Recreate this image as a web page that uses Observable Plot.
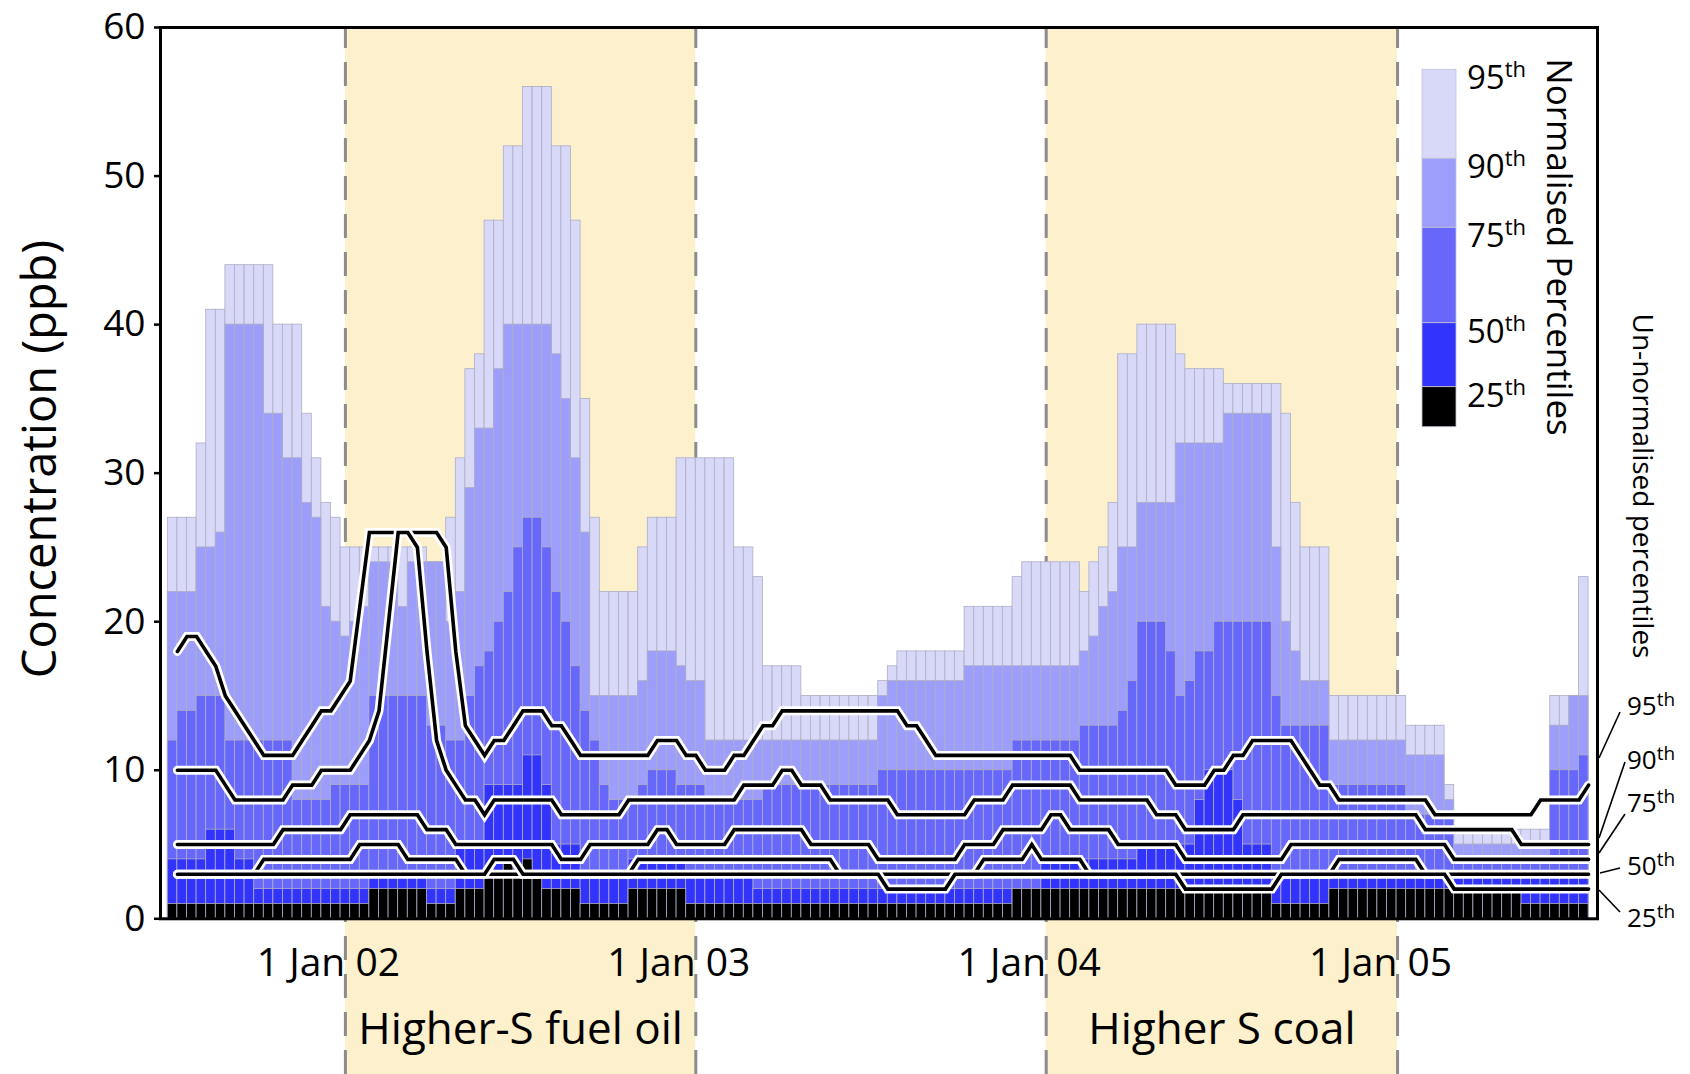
<!DOCTYPE html>
<html><head><meta charset="utf-8">
<script src="https://cdn.jsdelivr.net/npm/d3@7"></script>
<script src="https://cdn.jsdelivr.net/npm/@observablehq/plot@0.6"></script>
<style>
html,body{margin:0;padding:0;background:#fff;}
#chart{width:1690px;height:1074px;}
</style></head><body><div id="chart"></div>
<script>
// 10-day bins starting 30 Jun 2001: tops of each normalised percentile band (ppb)
const p95 = [27,27,27,32,41,41,44,44,44,44, 44,40,40,40,34,31,28,27,25,25,
  25,25,25,25,25,25,25,24,24,27, 31,37,38,47,47,52,52,56,56,56,
  52,52,47,35,27,22,22,22,22,25, 27,27,27,31,31,31,31,31,31,25,
  25,23,17,17,17,17,15,15,15,15, 15,15,15,15,16,17,18,18,18,18,
  18,18,18,21,21,21,21,21,23,24, 24,24,24,24,24,22,24,25,28,38,
  38,40,40,40,40,38,37,37,37,37, 36,36,36,36,36,36,34,28,25,25,
  25,15,15,15,15,15,15,15,15,13, 13,13,13,9,6,6,6,6,6,6,
  6,6,6,6,15,15,15,23];
const p90 = [22,22,22,25,25,26,40,40,40,40, 34,34,31,31,28,27,21,20,19,20,
  21,24,24,24,21,24,24,24,24,20, 22,29,33,33,37,40,40,40,40,40,
  38,35,31,26,15,15,15,15,15,16, 18,18,18,17,16,16,12,12,12,12,
  12,12,12,12,12,12,12,12,12,12, 12,12,12,12,15,16,16,16,16,16,
  16,16,16,17,17,17,17,17,17,17, 17,17,17,17,17,18,19,21,22,25,
  25,28,28,28,28,32,32,32,32,32, 34,34,34,34,34,25,20,18,16,16,
  16,12,12,12,12,12,12,12,12,11, 11,11,11,8,5,5,5,5,5,5,
  5,5,5,5,13,13,15,15];
const p75 = [12,14,14,15,15,15,12,12,12,12, 12,12,12,8,8,8,8,9,9,9,
  9,15,15,15,15,15,15,13,13,12, 12,15,17,18,20,22,25,27,27,25,
  22,20,17,14,12,9,8,8,8,9, 10,10,10,9,9,9,8,8,8,8,
  8,8,9,9,9,9,9,9,9,9, 9,9,9,9,10,10,10,10,10,10,
  10,10,10,10,10,10,10,10,12,12, 12,12,12,12,12,13,13,13,13,14,
  16,20,20,20,18,15,16,18,18,20, 20,20,20,20,20,15,13,13,13,13,
  13,9,9,9,9,9,9,9,9,7, 7,7,7,7,4,4,4,4,4,4,
  4,4,4,4,10,10,10,11];
const p50 = [4,4,4,4,6,6,6,4,4,2, 2,2,2,2,2,2,2,2,2,2,
  2,3,3,3,3,3,3,2,2,2, 5,5,5,9,9,9,9,11,11,9,
  5,5,5,3,3,3,3,3,4,4, 4,4,4,4,3,3,3,3,3,3,
  3,2,2,2,2,2,2,2,2,2, 2,2,2,2,2,2,2,2,2,2,
  2,2,2,2,2,2,2,2,2,2, 2,4,4,4,4,4,4,4,4,4,
  4,5,5,5,5,5,5,8,10,10, 10,8,5,5,5,3,3,3,3,3,
  3,3,3,3,3,3,3,3,3,3, 3,3,3,3,3,3,3,3,3,3,
  3,3,3,3,3,3,3,3];
const p25 = [1,1,1,1,1,1,1,1,1,1, 1,1,1,1,1,1,1,1,1,1,
  1,2,2,2,2,2,2,1,1,1, 2,2,2,3,3,4,3,4,3,2,
  2,2,2,1,1,1,1,1,2,2, 2,2,2,2,1,1,1,1,1,1,
  1,1,1,1,1,1,1,1,1,1, 1,1,1,1,1,1,1,1,1,1,
  1,1,1,1,1,1,1,1,2,2, 2,2,2,2,2,2,2,2,2,2,
  2,2,2,2,2,2,2,2,2,2, 2,2,2,2,2,1,1,1,1,1,
  1,2,2,2,2,2,2,2,2,2, 2,2,2,2,2,2,2,2,2,2,
  2,1,1,1,1,1,1,1];

// Un-normalised percentiles (ppb), one value per bin, drawn at the end of each bin
const u95 = [18,19,19,18,17,15,14,13,12,11, 11,11,11,12,13,14,14,15,16,21,
  26,26,26,26,26,26,26,26,25,18, 13,12,11,12,12,13,14,14,14,13,
  13,12,11,11,11,11,11,11,11,11, 12,12,12,11,11,10,10,10,11,11,
  12,13,13,14,14,14,14,14,14,14, 14,14,14,14,14,14,13,13,12,11,
  11,11,11,11,11,11,11,11,11,11, 11,11,11,11,10,10,10,10,10,10,
  10,10,10,10,9,9,9,9,10,10, 11,11,12,12,12,12,12,11,10,9,
  9,8,8,8,8,8,8,8,8,8, 8,7,7,7,7,7,7,7,7,7,
  7,7,8,8,8,8,8,9];
const u90 = [10,10,10,10,10,9,8,8,8,8, 8,8,9,9,9,10,10,10,10,11,
  12,14,20,26,26,25,18,12,10,9, 8,8,7,8,8,8,8,8,8,8,
  7,7,7,7,7,7,7,8,8,8, 8,8,8,8,8,8,8,8,8,9,
  9,9,9,10,10,9,9,9,8,8, 8,8,8,8,8,7,7,7,7,7,
  7,7,7,8,8,8,8,9,9,9, 9,9,9,9,8,8,8,8,8,8,
  8,8,7,7,7,6,6,6,6,6, 6,7,7,7,7,7,7,7,7,7,
  7,7,7,7,7,7,7,7,7,7, 6,6,6,6,6,6,6,6,6,6,
  5,5,5,5,5,5,5,5];
const u75 = [5,5,5,5,5,5,5,5,5,5, 5,6,6,6,6,6,6,6,7,7,
  7,7,7,7,7,7,6,6,6,5, 5,5,5,5,5,5,5,5,5,5,
  4,4,4,5,5,5,5,5,5,5, 6,6,5,5,5,5,5,5,6,6,
  6,6,6,6,6,6,5,5,5,5, 5,5,5,4,4,4,4,4,4,4,
  4,4,5,5,5,5,6,6,6,6, 6,7,7,6,6,6,6,6,5,5,
  5,5,5,5,5,4,4,4,4,4, 4,4,4,4,4,4,5,5,5,5,
  5,5,5,5,5,5,5,5,5,5, 5,5,5,4,4,4,4,4,4,4,
  4,4,4,4,4,4,4,4];
const u50 = [3,3,3,3,3,3,3,3,3,4, 4,4,4,4,4,4,4,4,4,5,
  5,5,5,5,4,4,4,4,4,4, 3,3,3,3,3,3,3,3,3,3,
  3,3,3,3,3,3,3,3,4,4, 4,4,4,4,4,4,4,4,4,4,
  4,4,4,4,4,4,4,4,4,3, 3,3,3,3,3,3,3,3,3,3,
  3,3,3,3,4,4,4,4,4,5, 4,4,4,4,4,3,3,3,3,3,
  3,3,3,3,3,3,3,3,3,3, 3,3,3,3,3,3,3,3,3,3,
  3,4,4,4,4,4,4,4,4,4, 3,3,3,3,3,3,3,3,3,3,
  3,3,3,3,3,3,3,3];
const u25 = [3,3,3,3,3,3,3,3,3,3, 3,3,3,3,3,3,3,3,3,3,
  3,3,3,3,3,3,3,3,3,3, 3,3,3,4,4,4,3,3,3,3,
  3,3,3,3,3,3,3,3,3,3, 3,3,3,3,3,3,3,3,3,3,
  3,3,3,3,3,3,3,3,3,3, 3,3,3,3,2,2,2,2,2,2,
  2,3,3,3,3,3,3,3,3,3, 3,3,3,3,3,3,3,3,3,3,
  3,3,3,3,3,2,2,2,2,2, 2,2,2,2,2,3,3,3,3,3,
  3,3,3,3,3,3,3,3,3,3, 3,3,3,2,2,2,2,2,2,2,
  2,2,2,2,2,2,2,2];

const bandKeys = ["p95", "p90", "p75", "p50", "p25"];
const bandColors = ["#d8d8f9", "#9d9dfb", "#6767fc", "#3333fe", "#000000"];
const bandLabels = ["95", "90", "75", "50", "25"];
const lineKeys = ["u95", "u90", "u75", "u50", "u25"];

const yTicks = [0, 10, 20, 30, 40, 50, 60];
const xTickDates = [new Date(Date.UTC(2002,0,1)), new Date(Date.UTC(2003,0,1)), new Date(Date.UTC(2004,0,1)), new Date(Date.UTC(2005,0,1))];
const xTickLabels = ["1 Jan 02", "1 Jan 03", "1 Jan 04", "1 Jan 05"];

const periodNames = ["Higher-S fuel oil", "Higher S coal"];
const periodStarts = [new Date(Date.UTC(2002,0,1)), new Date(Date.UTC(2004,0,1))];
const periodEnds = [new Date(Date.UTC(2003,0,1)), new Date(Date.UTC(2005,0,1))];

// layout
const W = 1690, H = 1074;
const mL = 160, mR = 93, mT = 27, mB = H - 918.3;
const DAY = 864e5;
const t0 = Date.UTC(2001, 5, 30);
const binDays = 10;
const pxPerDay = 0.96;
const leadDays = 7.6;
const xDomain = [new Date(t0 - leadDays * DAY), new Date(t0 + ((W - mL - mR) / pxPerDay - leadDays) * DAY)];
const yMax = 60;
const yBottom = -mB / ((H - mT - mB) / yMax);

const binDate = k => new Date(t0 + k * binDays * DAY);
const rows = p95.map((_, i) => ({
  x1: binDate(i), x2: binDate(i + 1), xe: binDate(i + 1),
  p95: p95[i], p90: p90[i], p75: p75[i], p50: p50[i], p25: p25[i],
  u95: u95[i], u90: u90[i], u75: u75[i], u50: u50[i], u25: u25[i]
}));
const periods = periodNames.map((name, i) => ({
  name, start: periodStarts[i], end: periodEnds[i],
  mid: new Date((+periodStarts[i] + +periodEnds[i]) / 2)
}));
const edges = periods.flatMap(p => [p.start, p.end]);

const marks = [
  Plot.rect(periods, {x1: "start", x2: "end", y1: yBottom, y2: yMax, fill: "#fdf0cd"}),
  Plot.ruleX(edges, {x: d => d, y1: yBottom, y2: yMax, stroke: "#8c8c8c", strokeWidth: 3, strokeDasharray: "24,14"}),
  ...bandKeys.map((k, j) => Plot.rectY(rows, {x1: "x1", x2: "x2", y1: 0, y2: k, fill: bandColors[j], stroke: "#aeaec4", strokeWidth: 0.8})),
  ...lineKeys.flatMap(k => [
    Plot.line(rows, {x: "xe", y: k, stroke: "white", strokeWidth: 9, strokeLinejoin: "miter", strokeMiterlimit: 3}),
    Plot.line(rows, {x: "xe", y: k, stroke: "black", strokeWidth: 3.6, strokeLinejoin: "miter", strokeMiterlimit: 3})
  ]),
  Plot.frame({stroke: "black", strokeWidth: 3}),
  Plot.axisY({ticks: yTicks, tickSize: 6, tickPadding: 9, fontSize: 37, strokeWidth: 2.5, label: null}),
  Plot.axisX({ticks: xTickDates, tickSize: 0, tickPadding: 29, fontSize: 39, dx: -17, label: null,
    tickFormat: d => xTickLabels[xTickDates.findIndex(t => +t === +d)]}),
  Plot.text(periods, {x: "mid", text: "name", frameAnchor: "bottom", dy: 125, fontSize: 44, fill: "black"})
];

const plot = Plot.plot({
  width: W, height: H,
  marginLeft: mL, marginRight: mR, marginTop: mT, marginBottom: mB,
  style: {fontFamily: "'Open Sans', sans-serif", background: "white", color: "black", overflow: "visible"},
  x: {type: "utc", domain: xDomain},
  y: {domain: [0, yMax]},
  marks
});
document.getElementById("chart").appendChild(plot);

// annotations: axis title, legend swatches and the un-normalised labels
const svg = d3.select(plot);
const font = "'Open Sans', sans-serif";

svg.append("text")
  .attr("transform", "translate(38,459) rotate(-90)")
  .attr("text-anchor", "middle").attr("dominant-baseline", "central")
  .attr("font-family", font).attr("font-size", 47).attr("fill", "black")
  .text("Concentration (ppb)");

const legendEdges = [69.3, 158.3, 227.3, 322.7, 386.7, 426.7];
const lg = svg.append("g").attr("text-anchor", "start");
bandLabels.forEach((lab, j) => {
  lg.append("rect").attr("x", 1422).attr("width", 34)
    .attr("y", legendEdges[j]).attr("height", legendEdges[j + 1] - legendEdges[j])
    .attr("fill", bandColors[j]).attr("stroke", "#c4c4d4").attr("stroke-width", 0.8);
  const t = lg.append("text").attr("x", 1467).attr("y", legendEdges[j] + 20)
    .attr("text-anchor", "start")
    .attr("font-family", font).attr("font-size", 33).attr("fill", "black").text(lab);
  t.append("tspan").attr("font-size", 22).attr("dy", -12).text("th");
});
lg.append("text")
  .attr("transform", "translate(1560,247) rotate(90)")
  .attr("text-anchor", "middle").attr("dominant-baseline", "central")
  .attr("font-family", font).attr("font-size", 35).attr("fill", "black")
  .text("Normalised Percentiles");

const ug = svg.append("g").attr("text-anchor", "start");
ug.append("text")
  .attr("transform", "translate(1644,486) rotate(90)")
  .attr("text-anchor", "middle").attr("dominant-baseline", "central")
  .attr("font-family", font).attr("font-size", 28).attr("fill", "black")
  .text("Un-normalised percentiles");
const rightLabelY = [706, 760, 803, 866, 918];
const leaderFrom = [[1620, 712], [1625, 762], [1625, 814], [1620, 868], [1620, 912]];
const leaderTo = [[1599, 758], [1599, 838], [1599, 853], [1600, 873], [1599, 890]];
bandLabels.forEach((lab, j) => {
  ug.append("line")
    .attr("x1", leaderFrom[j][0]).attr("y1", leaderFrom[j][1])
    .attr("x2", leaderTo[j][0]).attr("y2", leaderTo[j][1])
    .attr("stroke", "black").attr("stroke-width", 1.6);
  const t = ug.append("text").attr("x", 1627).attr("y", rightLabelY[j] + 9)
    .attr("text-anchor", "start")
    .attr("font-family", font).attr("font-size", 26).attr("fill", "black").text(lab);
  t.append("tspan").attr("font-size", 19).attr("dy", -9).text("th");
});
</script></body></html>
